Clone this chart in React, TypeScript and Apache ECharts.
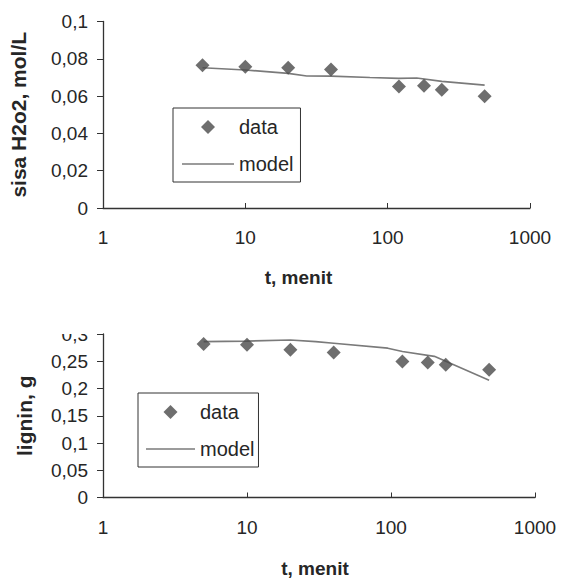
import React, { useEffect, useRef } from "react";
import * as echarts from "echarts";

// ---- data ----
const timeData = [5, 10, 20, 40, 120, 180, 240, 480];
const h2o2Data = [0.0766, 0.0758, 0.0752, 0.0743, 0.0652, 0.0655, 0.0634, 0.0599];
const h2o2ModelTime = [5, 10, 20, 27, 40, 75, 120, 160, 240, 480];
const h2o2Model = [0.0752, 0.074, 0.0722, 0.0708, 0.0707, 0.0700, 0.0695, 0.0697, 0.0679, 0.0659];

const ligninData = [0.2818, 0.2805, 0.2709, 0.266, 0.2496, 0.2478, 0.2436, 0.2345];
const ligninModelTime = [5, 10, 20, 30, 40, 95, 120, 200, 240, 480];
const ligninModel = [0.286, 0.287, 0.289, 0.286, 0.283, 0.274, 0.268, 0.259, 0.25, 0.215];

const xLabels = ["1", "10", "100", "1000"];
const yLabelsTop = ["0", "0,02", "0,04", "0,06", "0,08", "0,1"];
const yLabelsBottom = ["0", "0,05", "0,1", "0,15", "0,2", "0,25", "0,3"];

const legendNames = ["data", "model"];
const xTitle = "t, menit";
const yTitleTop = "sisa H2o2, mol/L";
const yTitleBottom = "lignin, g";

const FONT = "'Liberation Sans', Arial, sans-serif";
const TEXT = "#262626";
const AXIS = "#333333";
const MARK = "#4a4a4a";
const LINE = "#7a7a7a";

function pairs(xs: number[], ys: number[]) {
  return xs.map((x, i) => [x, ys[i]]);
}

function xAxis(gridIndex: number, nameGap: number, padRight: number) {
  return {
    type: "log",
    logBase: 10,
    gridIndex,
    min: 1,
    max: 1000,
    name: xTitle,
    nameLocation: "middle",
    nameGap,
    nameTextStyle: {
      fontFamily: FONT,
      fontSize: 19,
      fontWeight: "bold",
      color: TEXT,
      padding: [0, padRight, 0, 0],
    },
    axisLine: { show: true, lineStyle: { color: AXIS, width: 1.3 } },
    axisTick: { show: true, inside: true, length: 5, lineStyle: { color: AXIS, width: 1 } },
    minorTick: { show: false },
    splitLine: { show: false },
    axisLabel: {
      fontFamily: FONT,
      fontSize: 19,
      color: TEXT,
      margin: 20,
      formatter: (v: number, i: number) => xLabels[i] ?? String(Math.round(v)),
    },
  };
}

function yAxis(gridIndex: number, max: number, interval: number, labels: string[], name: string, nameGap: number) {
  return {
    type: "value",
    gridIndex,
    min: 0,
    max,
    interval,
    name,
    nameLocation: "middle",
    nameRotate: 90,
    nameGap,
    nameTextStyle: { fontFamily: FONT, fontSize: 21, fontWeight: "bold", color: TEXT },
    axisLine: { show: true, lineStyle: { color: AXIS, width: 1.3 } },
    axisTick: { show: true, inside: false, length: 6, lineStyle: { color: AXIS, width: 1 } },
    splitLine: { show: false },
    axisLabel: {
      fontFamily: FONT,
      fontSize: 19,
      color: TEXT,
      margin: 15,
      formatter: (v: number, i: number) => labels[i] ?? String(v).replace(".", ","),
    },
  };
}

function legend(left: number, top: number, itemWidth: number, padding: number[]) {
  return {
    orient: "vertical",
    left,
    top,
    itemWidth,
    itemHeight: 14,
    itemGap: 17,
    padding,
    borderColor: "#333",
    borderWidth: 1,
    backgroundColor: "#fff",
    selectedMode: false,
    symbolKeepAspect: true,
    data: [
      {
        name: legendNames[0],
        icon: "path://M7,0L14,7L7,14L0,7Z",
        itemStyle: { color: MARK, borderWidth: 0 },
      },
      {
        name: legendNames[1],
        icon: "path://M0,0H60V1.7H0Z",
        itemStyle: { color: LINE, borderWidth: 0 },
      },
    ],
    textStyle: { fontFamily: FONT, fontSize: 20, color: TEXT },
  };
}

export default function App() {
  const ref = useRef<HTMLDivElement>(null);

  useEffect(() => {
    if (!ref.current) return;
    const chart = echarts.init(ref.current, undefined, { renderer: "svg" });
    const option: any = {
      animation: false,
      backgroundColor: "#ffffff",
      grid: [
        { left: 100, right: 31, top: 21.5, bottom: 371 },
        { left: 103, right: 26, top: 334, bottom: 81.5 },
      ],
      xAxis: [xAxis(0, 60, 36), xAxis(1, 61, 8)],
      yAxis: [
        yAxis(0, 0.1, 0.02, yLabelsTop, yTitleTop, 74),
        yAxis(1, 0.3, 0.05, yLabelsBottom, yTitleBottom, 68),
      ],
      legend: [legend(173, 108, 52, [9, 7, 8, 9]), legend(138, 393, 49, [9, 4, 8, 8])],
      series: [
        {
          name: "data",
          type: "scatter",
          xAxisIndex: 0,
          yAxisIndex: 0,
          symbol: "diamond",
          symbolSize: 14,
          itemStyle: { color: MARK },
          data: pairs(timeData, h2o2Data),
          z: 3,
        },
        {
          name: "model",
          type: "line",
          xAxisIndex: 0,
          yAxisIndex: 0,
          symbol: "none",
          showSymbol: false,
          color: LINE,
          lineStyle: { color: LINE, width: 1.6 },
          data: pairs(h2o2ModelTime, h2o2Model),
          z: 2,
        },
        {
          name: "data",
          type: "scatter",
          xAxisIndex: 1,
          yAxisIndex: 1,
          symbol: "diamond",
          symbolSize: 14,
          itemStyle: { color: MARK },
          data: pairs(timeData, ligninData),
          z: 3,
        },
        {
          name: "model",
          type: "line",
          xAxisIndex: 1,
          yAxisIndex: 1,
          symbol: "none",
          showSymbol: false,
          color: LINE,
          lineStyle: { color: LINE, width: 1.6 },
          data: pairs(ligninModelTime, ligninModel),
          z: 2,
        },
      ],
      graphic: [
        {
          type: "rect",
          left: 45,
          top: 316,
          z: 100,
          shape: { width: 50, height: 18 },
          style: { fill: "#ffffff" },
          silent: true,
        },
      ],
    };
    chart.setOption(option);
    return () => chart.dispose();
  }, []);

  return (
    <div
      ref={ref}
      style={{ position: "fixed", left: 0, top: 0, width: 561, height: 579, background: "#fff" }}
    />
  );
}
